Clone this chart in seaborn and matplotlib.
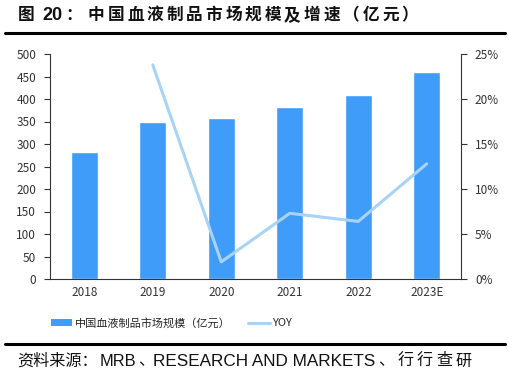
import matplotlib
matplotlib.use("Agg")
import matplotlib.pyplot as plt
import seaborn as sns
import pandas as pd
from matplotlib.lines import Line2D
from matplotlib.patches import Patch

years = ["2018", "2019", "2020", "2021", "2022", "2023E"]
market_size = [282, 350, 357, 383, 409, 460]
yoy_years = ["2019", "2020", "2021", "2022", "2023E"]
yoy = [23.8, 1.9, 7.3, 6.4, 12.8]
left_ticks = [0, 50, 100, 150, 200, 250, 300, 350, 400, 450, 500]
right_ticks = [0, 5, 10, 15, 20, 25]

sns.set_theme(style="white")
plt.rcParams['font.family'] = ['Noto Sans CJK SC', 'DejaVu Sans']

W, H = 510, 377
fig = plt.figure(figsize=(W / 100, H / 100), dpi=100)
ax = fig.add_axes([50 / W, 1 - 279 / H, (461 - 50) / W, (279 - 54) / H])

df = pd.DataFrame({"year": years, "size": market_size})
bar_color = "#3f9cf8"
line_color = "#a9d3f5"
sns.barplot(data=df, x="year", y="size", ax=ax, color=bar_color, width=0.4,
            saturation=1)
ax.set_xlim(-0.5, 5.5)
ax.set_ylim(0, 500)
ax.set_yticks(left_ticks)
ax.set_xlabel("")
ax.set_ylabel("")
ax.set_xticks(range(len(years)))
ax.set_xticklabels(years)
ax.set_xticks([i - 0.5 for i in range(len(years) + 1)], minor=True)
ax.tick_params(axis="x", which="major", length=0, labelsize=8.5, colors="#333333", pad=5)
ax.tick_params(axis="x", which="minor", length=4, width=0.8, color="#333333", direction="out")
ax.tick_params(axis="y", length=4, width=0.8, color="#333333", direction="out", labelsize=8.5,
               labelcolor="#333333", pad=6)
for s in ["top", "right"]:
    ax.spines[s].set_visible(False)
for s in ["left", "bottom"]:
    ax.spines[s].set_color("#333333")
    ax.spines[s].set_linewidth(0.8)

ax2 = ax.twinx()
xpos = [years.index(y) for y in yoy_years]
sns.lineplot(x=xpos, y=yoy, ax=ax2, color=line_color, linewidth=2.2)
ax2.set_ylim(0, 25)
ax2.set_yticks(right_ticks)
ax2.set_yticklabels([f"{t}%" for t in right_ticks])
ax2.set_xlim(-0.5, 5.5)
ax2.tick_params(axis="y", length=4, width=0.8, color="#333333", direction="out", labelsize=8.5,
                labelcolor="#333333", pad=6)
for s in ["top", "left", "bottom"]:
    ax2.spines[s].set_visible(False)
ax2.spines["right"].set_color("#333333")
ax2.spines["right"].set_linewidth(0.8)
ax2.set_ylabel("")
ax2.grid(False)
ax.grid(False)

handles = [Patch(facecolor=bar_color, edgecolor="none"),
           Line2D([0], [0], color=line_color, linewidth=2.2)]
fig.legend(handles, ["中国血液制品市场规模（亿元）", "YOY"], loc="center left",
           bbox_to_anchor=(41 / W, 1 - 323 / H), ncol=2, frameon=False,
           fontsize=8, handlelength=1.9, handleheight=0.6, columnspacing=1.6,
           handletextpad=0.25)

# Title, laid out with the reference's wide character spacing
ty = 1 - 15 / H
fig.text(18 / W, ty, "图", fontsize=12, fontweight="bold", va="center", ha="left", color="#111111")
fig.text(42 / W, ty, "20", fontsize=13, fontweight="bold", va="center", ha="left",
         color="#111111", family=["Liberation Sans", "DejaVu Sans"])
fig.text(65 / W, ty, "：", fontsize=12, fontweight="bold", va="center", ha="left", color="#111111")
title_chars = "中国血液制品市场规模及增速（亿元）"
for i, ch in enumerate(title_chars):
    fig.text((88 + i * 19.6) / W, ty, ch, fontsize=12, fontweight="bold", va="center",
             ha="left", color="#111111")

fig.add_artist(Line2D([5 / W, 505 / W], [1 - 33 / H, 1 - 33 / H], color="black", linewidth=2.2))
fig.add_artist(Line2D([5 / W, 505 / W], [1 - 344 / H, 1 - 344 / H], color="black", linewidth=2.2))

# Source line
sy = 1 - 361 / H
cjk_size = 11.6
lat = ["Liberation Sans", "DejaVu Sans"]
fig.text(17 / W, sy, "资料来源：", fontsize=cjk_size, va="center", ha="left", color="#111111")
fig.text(100 / W, sy, "MRB", fontsize=11.8, va="center", ha="left", color="#111111", family=lat)
fig.text(138 / W, sy, "、", fontsize=cjk_size, va="center", ha="left", color="#111111")
fig.text(153 / W, sy, "RESEARCH AND MARKETS", fontsize=12.3, va="center", ha="left",
         color="#111111", family=lat)
fig.text(378 / W, sy, "、", fontsize=cjk_size, va="center", ha="left", color="#111111")
for i, ch in enumerate("行行查研"):
    fig.text((398 + i * 19) / W, sy, ch, fontsize=cjk_size, va="center", ha="left",
             color="#111111")

fig.savefig("out.png", dpi=100)
